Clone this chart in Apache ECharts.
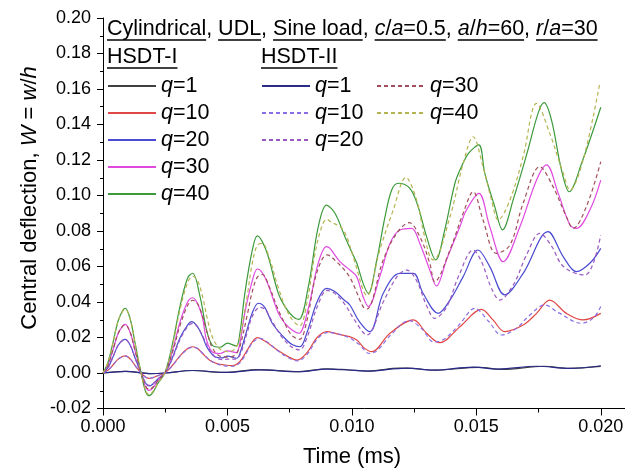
<!DOCTYPE html>
<html><head><meta charset="utf-8">
<script src="https://cdn.jsdelivr.net/npm/echarts@6/dist/echarts.min.js"></script>
<style>html,body{margin:0;padding:0;background:#fff}#c{width:625px;height:471px}</style>
</head><body><div id="c"></div>
<script>
// ---- data: [time (ms), W] ----
const hsdt1_q1 = [[0,0],[0.0009,0.0009],[0.00185,-0.0003],[0.0025,0],[0.0036,0.0014],[0.0047,0.0004],[0.0050,0.0004],[0.0062,0.0019],[0.0079,0.0008],[0.0090,0.0024],[0.0099,0.0017],[0.01066,0.0011],[0.0119,0.0027],[0.0124,0.0026],[0.01337,0.0016],[0.0151,0.0032],[0.01605,0.002],[0.01772,0.0038],[0.01873,0.0026],[0.0200,0.0037]];
const hsdt1_q10 = [[0,0],[0.0002,0.0015],[0.0004,0.0045],[0.0006,0.0077],[0.0008,0.0094],[0.0009,0.0096],[0.0011,0.0078],[0.0013,0.004],[0.0015,0.0005],[0.0017,-0.0023],[0.00185,-0.003],[0.0020,-0.0027],[0.0022,-0.0015],[0.0025,0.0002],[0.0028,0.0045],[0.0031,0.0098],[0.0034,0.0138],[0.0036,0.0148],[0.0038,0.0138],[0.0040,0.011],[0.0043,0.007],[0.0046,0.0052],[0.0049,0.0045],[0.0052,0.0042],[0.0055,0.0065],[0.0058,0.013],[0.0060,0.0175],[0.0062,0.0199],[0.0065,0.018],[0.0070,0.013],[0.0074,0.0095],[0.0078,0.0073],[0.0082,0.0115],[0.0086,0.020],[0.0090,0.0233],[0.0094,0.022],[0.0099,0.0205],[0.0102,0.0186],[0.0105,0.014],[0.0108,0.012],[0.01153,0.0224],[0.01247,0.0299],[0.0130,0.0224],[0.01353,0.0171],[0.01434,0.0261],[0.01521,0.0359],[0.01567,0.0299],[0.01614,0.0233],[0.01688,0.027],[0.01742,0.0336],[0.01795,0.0411],[0.01862,0.0336],[0.01929,0.0299],[0.0200,0.0336]];
const hsdt1_q20 = [[0,0],[0.0002,0.003],[0.0004,0.009],[0.0006,0.0155],[0.0008,0.0186],[0.0009,0.019],[0.0011,0.0155],[0.0013,0.008],[0.0015,0.001],[0.0017,-0.0055],[0.00185,-0.0073],[0.0020,-0.0063],[0.0022,-0.0035],[0.0025,0.0003],[0.0028,0.009],[0.0031,0.020],[0.0034,0.027],[0.00356,0.0289],[0.0038,0.026],[0.0040,0.0205],[0.0042,0.014],[0.0045,0.0092],[0.0048,0.0085],[0.0050,0.0095],[0.00537,0.0083],[0.0055,0.011],[0.0058,0.025],[0.0060,0.034],[0.00624,0.0393],[0.0065,0.037],[0.0068,0.028],[0.00724,0.0205],[0.0076,0.016],[0.00791,0.0148],[0.0082,0.023],[0.0086,0.040],[0.00898,0.0477],[0.0093,0.046],[0.0097,0.041],[0.00992,0.0383],[0.0103,0.029],[0.01072,0.0233],[0.01126,0.0449],[0.01193,0.0561],[0.01247,0.0561],[0.01286,0.0449],[0.01347,0.0336],[0.01394,0.0411],[0.01447,0.0543],[0.01507,0.0693],[0.01554,0.0599],[0.01614,0.044],[0.01688,0.0561],[0.01788,0.0796],[0.01849,0.0656],[0.01902,0.0571],[0.01956,0.0618],[0.0200,0.0702]];
const hsdt1_q30 = [[0,0],[0.0002,0.0045],[0.0004,0.013],[0.0006,0.022],[0.0008,0.0267],[0.0009,0.0274],[0.0011,0.0225],[0.0013,0.012],[0.0015,0.0015],[0.0017,-0.0075],[0.00185,-0.0098],[0.0020,-0.0085],[0.0022,-0.0045],[0.0025,0.0004],[0.0028,0.013],[0.0031,0.029],[0.0034,0.040],[0.0036,0.0424],[0.0038,0.039],[0.0040,0.031],[0.00416,0.0185],[0.0044,0.0118],[0.0047,0.011],[0.0050,0.0125],[0.00535,0.0115],[0.0055,0.0168],[0.0057,0.034],[0.0060,0.052],[0.0062,0.0586],[0.0064,0.0565],[0.00664,0.0495],[0.00704,0.034],[0.00731,0.028],[0.00764,0.0238],[0.00787,0.0224],[0.00825,0.0365],[0.00865,0.062],[0.00898,0.0712],[0.00912,0.0702],[0.00952,0.0627],[0.00992,0.058],[0.01019,0.0543],[0.01045,0.043],[0.01066,0.0374],[0.01112,0.0543],[0.01153,0.073],[0.01193,0.0806],[0.0124,0.0815],[0.01273,0.073],[0.01313,0.058],[0.0134,0.049],[0.0138,0.0637],[0.01434,0.0824],[0.0146,0.0918],[0.0151,0.1012],[0.01554,0.0824],[0.01608,0.0627],[0.01675,0.0824],[0.01742,0.1087],[0.01782,0.1172],[0.01829,0.1012],[0.01876,0.0834],[0.01902,0.0815],[0.01956,0.0918],[0.0200,0.1087]];
const hsdt1_q40 = [[0,0],[0.0002,0.006],[0.0004,0.017],[0.0006,0.029],[0.0008,0.0355],[0.0009,0.0364],[0.0011,0.030],[0.0013,0.016],[0.0015,0.002],[0.0017,-0.010],[0.00185,-0.0128],[0.0020,-0.011],[0.0022,-0.006],[0.0025,0.0005],[0.0028,0.017],[0.0031,0.038],[0.0034,0.0535],[0.0036,0.0562],[0.0039,0.043],[0.00416,0.0242],[0.0044,0.0155],[0.0047,0.0145],[0.0050,0.0168],[0.00535,0.0152],[0.0055,0.0224],[0.0057,0.045],[0.0060,0.0693],[0.0062,0.0772],[0.0064,0.074],[0.00664,0.0656],[0.00704,0.045],[0.00731,0.0374],[0.00764,0.0317],[0.00787,0.0302],[0.00825,0.0486],[0.00865,0.0824],[0.00898,0.0946],[0.00932,0.09],[0.00972,0.0768],[0.0100,0.068],[0.0102,0.0618],[0.01045,0.0505],[0.01066,0.0449],[0.0110,0.0637],[0.01133,0.088],[0.0116,0.1031],[0.01186,0.1069],[0.01233,0.104],[0.01266,0.0937],[0.0130,0.0768],[0.01337,0.0637],[0.01373,0.0806],[0.01414,0.1069],[0.0144,0.1162],[0.0147,0.124],[0.0151,0.1285],[0.01534,0.1125],[0.01574,0.0937],[0.01605,0.0806],[0.0165,0.0985],[0.01705,0.1245],[0.01748,0.1463],[0.01772,0.1523],[0.01802,0.1425],[0.01842,0.1144],[0.01873,0.1021],[0.01925,0.119],[0.0200,0.1497]];
const hsdt2_q1 = [[0,0],[0.0009,0.0009],[0.00185,-0.0003],[0.0025,0],[0.0036,0.0014],[0.0050,0.0003],[0.0063,0.0018],[0.0079,0.0007],[0.0090,0.0022],[0.0100,0.0016],[0.0106,0.0011],[0.0122,0.0028],[0.01327,0.0016],[0.01487,0.0033],[0.01588,0.0022],[0.01742,0.0038],[0.01876,0.0026],[0.0200,0.0041]];
const hsdt2_q10 = [[0,0],[0.0002,0.0015],[0.0004,0.0045],[0.0006,0.0077],[0.0008,0.0093],[0.0009,0.0095],[0.0011,0.0078],[0.0013,0.004],[0.0015,0.0005],[0.0017,-0.0022],[0.00185,-0.0029],[0.0020,-0.0026],[0.0022,-0.0015],[0.0025,0.0002],[0.0028,0.0043],[0.0031,0.0095],[0.0034,0.0135],[0.0036,0.0145],[0.0038,0.0138],[0.0040,0.0112],[0.0043,0.0072],[0.0046,0.005],[0.0049,0.0040],[0.0052,0.0038],[0.0055,0.0058],[0.0058,0.0122],[0.0060,0.017],[0.0063,0.0195],[0.0066,0.0175],[0.0070,0.0128],[0.0074,0.009],[0.0078,0.0068],[0.0082,0.0105],[0.0086,0.019],[0.0090,0.0228],[0.0094,0.0222],[0.0099,0.0198],[0.0103,0.016],[0.0107,0.011],[0.0110,0.0125],[0.0116,0.022],[0.0123,0.0295],[0.0128,0.025],[0.0133,0.0175],[0.0137,0.019],[0.0143,0.027],[0.01494,0.0364],[0.0155,0.029],[0.01601,0.0214],[0.0166,0.025],[0.0171,0.032],[0.01775,0.0383],[0.0183,0.034],[0.01922,0.028],[0.0197,0.031],[0.0200,0.0374]];
const hsdt2_q20 = [[0,0],[0.0002,0.003],[0.0004,0.009],[0.0006,0.0155],[0.0008,0.0184],[0.0009,0.0187],[0.0011,0.0155],[0.0013,0.008],[0.0015,0.001],[0.0017,-0.0052],[0.00185,-0.007],[0.0020,-0.006],[0.0022,-0.0035],[0.0025,0.0003],[0.0028,0.0085],[0.0031,0.019],[0.0034,0.026],[0.0036,0.028],[0.0038,0.026],[0.0040,0.021],[0.0042,0.015],[0.0045,0.009],[0.0048,0.0075],[0.0050,0.0078],[0.0053,0.0078],[0.0055,0.010],[0.0058,0.023],[0.0060,0.032],[0.0063,0.037],[0.0065,0.036],[0.0068,0.029],[0.0072,0.020],[0.0076,0.0145],[0.0079,0.013],[0.0082,0.020],[0.0086,0.037],[0.0090,0.0465],[0.0093,0.045],[0.0097,0.039],[0.0101,0.030],[0.0106,0.0214],[0.01126,0.040],[0.0118,0.054],[0.0122,0.058],[0.0126,0.052],[0.0130,0.038],[0.01333,0.0308],[0.0138,0.037],[0.0143,0.055],[0.01487,0.0693],[0.0152,0.063],[0.0156,0.048],[0.01594,0.0411],[0.0165,0.050],[0.0170,0.066],[0.01755,0.0787],[0.0180,0.072],[0.0185,0.060],[0.01936,0.0552],[0.0197,0.062],[0.0200,0.0777]];
const hsdt2_q30 = [[0,0],[0.0002,0.0045],[0.0004,0.013],[0.0006,0.022],[0.0008,0.0265],[0.0009,0.0270],[0.0011,0.0225],[0.0013,0.012],[0.0015,0.0015],[0.0017,-0.007],[0.00185,-0.0093],[0.0020,-0.008],[0.0022,-0.0045],[0.0025,0.0004],[0.0028,0.012],[0.0031,0.027],[0.0034,0.038],[0.0036,0.041],[0.0038,0.039],[0.0040,0.032],[0.0042,0.022],[0.0044,0.014],[0.0047,0.0095],[0.0050,0.009],[0.0053,0.010],[0.0055,0.015],[0.0058,0.033],[0.0060,0.046],[0.0062,0.054],[0.0064,0.0555],[0.0067,0.048],[0.0070,0.037],[0.0073,0.028],[0.0076,0.021],[0.0079,0.019],[0.0082,0.030],[0.0085,0.052],[0.0088,0.064],[0.0090,0.0665],[0.00938,0.0627],[0.0099,0.0543],[0.01045,0.0374],[0.0106,0.036],[0.01126,0.0637],[0.0118,0.0787],[0.0123,0.0847],[0.01273,0.0768],[0.01313,0.0618],[0.01333,0.0514],[0.01394,0.0693],[0.01447,0.09],[0.01487,0.1021],[0.01527,0.0862],[0.0158,0.0674],[0.01635,0.0721],[0.01688,0.0956],[0.01755,0.1162],[0.01808,0.105],[0.01862,0.088],[0.01889,0.0815],[0.01942,0.0937],[0.0200,0.119]];
const hsdt2_q40 = [[0,0],[0.0002,0.006],[0.0004,0.017],[0.0006,0.029],[0.0008,0.035],[0.0009,0.0358],[0.0011,0.030],[0.0013,0.016],[0.0015,0.002],[0.0017,-0.0095],[0.00185,-0.0122],[0.0020,-0.0105],[0.0022,-0.006],[0.0025,0.0005],[0.0028,0.016],[0.0031,0.036],[0.0034,0.051],[0.0036,0.0545],[0.0038,0.052],[0.0040,0.043],[0.0042,0.030],[0.0044,0.020],[0.0047,0.0135],[0.0050,0.012],[0.0053,0.0135],[0.0055,0.020],[0.0058,0.044],[0.0060,0.062],[0.0062,0.072],[0.0064,0.073],[0.0067,0.064],[0.0070,0.050],[0.0073,0.038],[0.0076,0.030],[0.0079,0.0265],[0.0082,0.040],[0.0085,0.066],[0.0088,0.083],[0.0090,0.0866],[0.00912,0.0855],[0.00965,0.0806],[0.01005,0.0656],[0.01045,0.0468],[0.0106,0.0435],[0.01112,0.0693],[0.01166,0.0918],[0.01217,0.1102],[0.0126,0.0975],[0.01286,0.0806],[0.01313,0.0656],[0.01327,0.0637],[0.01394,0.088],[0.01447,0.118],[0.01487,0.1331],[0.01527,0.1162],[0.01561,0.0975],[0.01588,0.0862],[0.01635,0.0975],[0.01688,0.1219],[0.01742,0.1519],[0.01795,0.135],[0.01849,0.1125],[0.01876,0.1031],[0.01929,0.12],[0.01996,0.1632]];

const groupI = ['HSDT-I q=1','HSDT-I q=10','HSDT-I q=20','HSDT-I q=30','HSDT-I q=40'];
const groupII = ['HSDT-II q=1','HSDT-II q=10','HSDT-II q=20','HSDT-II q=30','HSDT-II q=40'];
const titlePieces = [
  {t:'Cylindrical',u:1},{t:', '},{t:'UDL',u:1},{t:', '},{t:'Sine load',u:1},{t:', '},
  {t:'c',u:1,i:1},{t:'/',u:1},{t:'a',u:1,i:1},{t:'=0.5',u:1},{t:', '},
  {t:'a',u:1,i:1},{t:'/',u:1},{t:'h',u:1,i:1},{t:'=60',u:1},{t:', '},
  {t:'r',u:1,i:1},{t:'/',u:1},{t:'a',u:1,i:1},{t:'=30',u:1}
];
const xAxisTitle = 'Time (ms)';

// ---- styling ----
const FONT = '"Liberation Sans", Arial, sans-serif';
const LFS = 21.5;
const colorsI = ['#404040','#e04848','#4a4ad0','#e048e0','#3c9a3c'];
const colorsII = ['#2a2a8a','#8a6ee6','#9a58c0','#a04f5a','#b4b450'];

const chart = echarts.init(document.getElementById('c'), null, {renderer:'canvas'});

const ctx = document.createElement('canvas').getContext('2d');
function textGraphics(pieces, x0, yc, size){
  const out = [];
  let x = x0, ulStart = null;
  pieces.forEach((p, k) => {
    const f = (p.i ? 'italic ' : '') + size + 'px ' + FONT;
    ctx.font = f;
    const w = ctx.measureText(p.t).width;
    out.push({type:'text', x:x, y:yc, silent:true,
      style:{text:p.t, font:f, fill:'#000', align:'left', verticalAlign:'middle'}});
    if (p.u && ulStart === null) ulStart = x;
    const nextU = pieces[k+1] && pieces[k+1].u;
    if (p.u && !nextU) {
      out.push({type:'line', silent:true, shape:{x1:ulStart, y1:yc+11, x2:x+w, y2:yc+11}, style:{stroke:'#000', lineWidth:1.3}});
      ulStart = null;
    }
    x += w;
  });
  return out;
}

const graphics = []
  .concat(textGraphics(titlePieces, 107, 29, LFS))
  .concat(textGraphics([{t:'HSDT-I',u:1}], 107, 57, LFS))
  .concat(textGraphics([{t:'HSDT-II',u:1}], 261, 57, LFS));
graphics.push({type:'text', x:30, y:198, rotation:Math.PI/2, silent:true,
  style:{text:'{n|Central deflection, }{i|W}{n| = }{i|w}{n|/}{i|h}', align:'center', verticalAlign:'middle', fill:'#000',
    rich:{n:{fontSize:22, fontFamily:FONT, fill:'#000', color:'#000'}, i:{fontSize:22, fontFamily:FONT, fontStyle:'italic', fill:'#000', color:'#000'}}}});
graphics.push({type:'text', x:352, y:457, silent:true,
  style:{text:xAxisTitle, font:'22px ' + FONT, fill:'#000', align:'center', verticalAlign:'middle'}});

function mkSeries(name, data, color, dashed){
  return {name:name, type:'line', data:data, showSymbol:false, symbol:'none', smooth:0.35,
    lineStyle:{color:color, width:1.2, type: dashed ? [4,3] : 'solid'}, itemStyle:{color:color}, animation:false, z: dashed ? 3 : 2};
}
const series = [
  mkSeries(groupI[0], hsdt1_q1, colorsI[0], false),
  mkSeries(groupI[1], hsdt1_q10, colorsI[1], false),
  mkSeries(groupI[2], hsdt1_q20, colorsI[2], false),
  mkSeries(groupI[3], hsdt1_q30, colorsI[3], false),
  mkSeries(groupI[4], hsdt1_q40, colorsI[4], false),
  mkSeries(groupII[0], hsdt2_q1, colorsII[0], false),
  mkSeries(groupII[1], hsdt2_q10, colorsII[1], true),
  mkSeries(groupII[2], hsdt2_q20, colorsII[2], true),
  mkSeries(groupII[3], hsdt2_q30, colorsII[3], true),
  mkSeries(groupII[4], hsdt2_q40, colorsII[4], true)
];

const legendText = {fontSize:LFS, fontFamily:FONT, color:'#000', lineHeight:22, rich:{i:{fontSize:LFS, fontFamily:FONT, fontStyle:'italic', color:'#000', lineHeight:22}}};
function legendFmt(name){ const q = name.split(' ')[1]; return '{i|q}' + q.slice(1); }
function mkLegend(data, left){
  return {data:data, orient:'vertical', left:left, top:75, padding:0, itemWidth:48, itemHeight:22, itemGap:5,
    selectedMode:false, textStyle:legendText, formatter:legendFmt,
    itemStyle:{color:'rgba(0,0,0,0)', borderColor:'rgba(0,0,0,0)', borderWidth:0, opacity:0}};
}

chart.setOption({
  animation:false,
  backgroundColor:'#fff',
  grid:{left:103, top:18, width:560, height:390.5, containLabel:false, outerBoundsMode:'none'},
  xAxis:{type:'value', min:0, max:0.0225, interval:0.005,
    axisLine:{show:true, onZero:false, lineStyle:{color:'#000', width:1}},
    axisTick:{show:true, inside:false, length:7, lineStyle:{color:'#000'}},
    minorTick:{show:true, splitNumber:2, length:4, lineStyle:{color:'#000'}},
    splitLine:{show:false},
    axisLabel:{fontSize:18, fontFamily:FONT, color:'#000', margin:10, showMaxLabel:false, formatter:v=>v.toFixed(3)}},
  yAxis:{type:'value', min:-0.02, max:0.2, interval:0.02,
    axisLine:{show:true, onZero:false, lineStyle:{color:'#000', width:1}},
    axisTick:{show:true, inside:false, length:6, lineStyle:{color:'#000'}},
    minorTick:{show:true, splitNumber:2, length:3, lineStyle:{color:'#000'}},
    splitLine:{show:false},
    axisLabel:{fontSize:18, fontFamily:FONT, color:'#000', margin:12, formatter:v=>v.toFixed(2)}},
  legend:[mkLegend(groupI, 107), mkLegend(groupII.slice(0,3), 261), mkLegend(groupII.slice(3), 376)],
  graphic:graphics,
  series:series
});
</script></body></html>
